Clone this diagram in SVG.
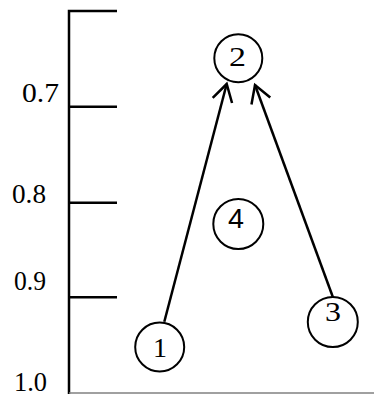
<svg xmlns="http://www.w3.org/2000/svg" width="374" height="394" viewBox="0 0 374 394">
<defs>
<style>
.ax{stroke:#000;stroke-width:2.5;fill:none}
.nd{fill:#fff;stroke:#000;stroke-width:2}
.cn{stroke:#000;stroke-width:2.5;fill:none}
.tx{font-family:'Liberation Serif','Times New Roman',serif;fill:#000}
</style>
<marker id="arr" viewBox="0 0 24 24" refX="20" refY="12" markerWidth="24" markerHeight="24" markerUnits="userSpaceOnUse" orient="auto">
<path d="M3,2 L20,12 L3,22" fill="none" stroke="#000" stroke-width="2.5"/>
</marker>
</defs>
<rect width="374" height="394" fill="#fff"/>
<g id="axis">
<path class="ax" d="M117,11 H69 V394"/>
<path class="ax" d="M69,106.7 H117 M69,202.7 H117 M69,297.3 H117"/>
<line x1="69" y1="393" x2="374" y2="393" stroke="#808080" stroke-width="1.5"/>
<g class="tx" font-size="27">
<text x="22" y="102" textLength="37" lengthAdjust="spacingAndGlyphs">0.7</text>
<text x="12" y="203" textLength="34" lengthAdjust="spacingAndGlyphs">0.8</text>
<text x="14" y="290" textLength="32" lengthAdjust="spacingAndGlyphs">0.9</text>
<text x="14" y="391" textLength="33" lengthAdjust="spacingAndGlyphs">1.0</text>
</g>
</g>
<g id="connectors">
<line class="cn" x1="164.3" y1="321.7" x2="226.7" y2="84" marker-end="url(#arr)"/>
<line class="cn" x1="333.3" y1="298.3" x2="255" y2="85" marker-end="url(#arr)"/>
</g>
<g id="node1">
<circle class="nd" cx="159.7" cy="347" r="24.5"/>
<text class="tx" x="153" y="357" font-size="28" textLength="14" lengthAdjust="spacingAndGlyphs">1</text>
</g>
<g id="node2">
<circle class="nd" cx="238.3" cy="58.3" r="24"/>
<text class="tx" x="229" y="66" font-size="28" textLength="17" lengthAdjust="spacingAndGlyphs">2</text>
</g>
<g id="node3">
<circle class="nd" cx="332.8" cy="322" r="25"/>
<text class="tx" x="325" y="321" font-size="28" textLength="16" lengthAdjust="spacingAndGlyphs">3</text>
</g>
<g id="node4">
<circle class="nd" cx="238.3" cy="224" r="25"/>
<text x="228" y="228" font-family="'Liberation Sans',Arial,sans-serif" font-size="27" textLength="16" lengthAdjust="spacingAndGlyphs">4</text>
</g>
</svg>
